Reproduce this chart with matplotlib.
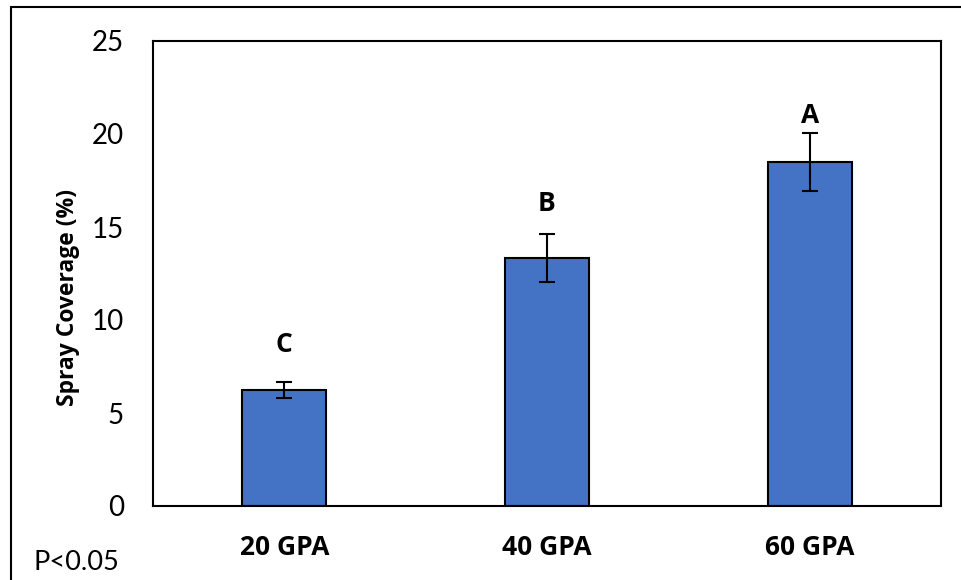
import matplotlib
matplotlib.use("Agg")
import matplotlib.pyplot as plt
from matplotlib.patches import Rectangle

categories = ["20 GPA", "40 GPA", "60 GPA"]
coverage = [6.24, 13.33, 18.49]
errors = [0.44, 1.27, 1.56]
letters = ["C", "B", "A"]
letter_heights = [8.66, 16.24, 21.0]
y_ticks = [0, 5, 10, 15, 20, 25]

plt.rcParams["font.family"] = ["Lato", "DejaVu Sans"]
bold_font = dict(family=["Open Sans", "DejaVu Sans"], fontweight="bold")

fig = plt.figure(figsize=(9.61, 5.80), dpi=100)
ax = fig.add_axes([153 / 961, 1 - 506 / 580, (941 - 153) / 961, (506 - 41) / 580])

x = range(len(categories))
ax.bar(x, coverage, width=0.32, color="#4472C4", edgecolor="black", linewidth=1.5, zorder=2)
ax.errorbar(x, coverage, yerr=errors, fmt="none", ecolor="black", elinewidth=1.5,
            capsize=6, capthick=1.5, zorder=3)

for xi, h, lab in zip(x, letter_heights, letters):
    ax.text(xi, h, lab, ha="center", va="center", fontsize=19, **bold_font)

ax.set_xlim(-0.5, len(categories) - 0.5)
ax.set_ylim(0, 25)
ax.set_yticks(y_ticks)
ax.set_xticks(list(x))
ax.set_xticklabels(categories, fontsize=19, **bold_font)
ax.tick_params(axis="y", length=0, pad=21, labelsize=20)
ax.tick_params(axis="x", length=0, pad=20)
for s in ax.spines.values():
    s.set_linewidth(1.5)
    s.set_color("black")

fig.text(68 / 961, 1 - 297 / 580, "Spray Coverage (%)", rotation=90, fontsize=16.5,
         ha="center", va="center", **bold_font)

fig.text(33 / 961, 1 - 562 / 580, "P<0.05", fontsize=19.5, ha="left", va="center")

# outer frame around the chart area
fig.add_artist(Rectangle((11 / 961, -0.1), 1.2, 1 - 7 / 580 + 0.1, transform=fig.transFigure,
                         fill=False, edgecolor="black", linewidth=1.5))

fig.savefig("out.png", dpi=100)
